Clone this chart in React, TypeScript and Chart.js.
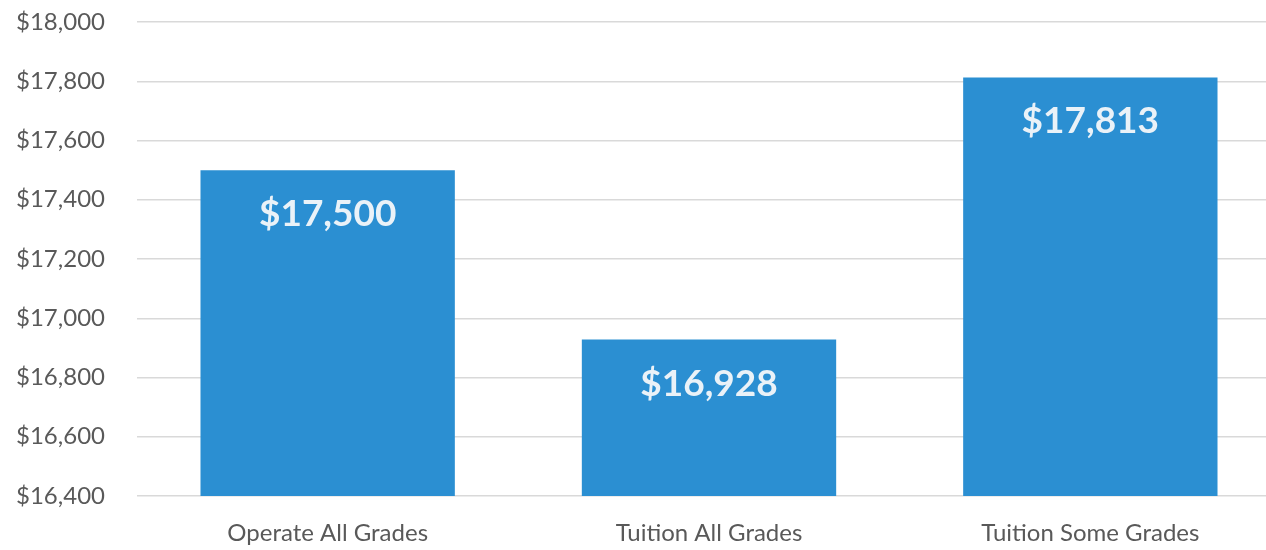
import React, { useEffect, useRef } from "react";
import { Chart, registerables } from "chart.js";

Chart.register(...registerables);

const categories = ["Operate All Grades", "Tuition All Grades", "Tuition Some Grades"];
const costs = [17500, 16928, 17813];
const yMin = 16400;
const yMax = 18000;
const yStep = 200;

const fmt = (v: number) => "$" + v.toLocaleString("en-US");

const valueLabels = {
  id: "valueLabels",
  afterDatasetsDraw(chart: any) {
    const { ctx } = chart;
    const meta = chart.getDatasetMeta(0);
    ctx.save();
    ctx.fillStyle = "#EAF2F8";
    ctx.font = "bold 37px Lato";
    ctx.textAlign = "center";
    ctx.textBaseline = "middle";
    meta.data.forEach((bar: any, i: number) => {
      ctx.fillText(fmt(costs[i]), bar.x, bar.y + 44);
    });
    ctx.restore();
  },
};

export default function App() {
  const ref = useRef<HTMLCanvasElement | null>(null);
  useEffect(() => {
    if (!ref.current) return;
    const chart = new Chart(ref.current, {
      type: "bar",
      data: {
        labels: categories,
        datasets: [
          {
            data: costs,
            backgroundColor: "#2B8FD2",
            barPercentage: 0.667,
            categoryPercentage: 1,
          },
        ],
      },
      options: {
        responsive: false,
        animation: false,
        layout: { padding: { top: 0, right: 9, left: 0, bottom: 0 } },
        plugins: { legend: { display: false }, tooltip: { enabled: false } },
        scales: {
          x: {
            grid: { display: false },
            border: { display: false },
            ticks: { color: "#595959", font: { family: "Lato", size: 24 }, padding: 15, maxRotation: 0 },
            afterFit: (s: any) => { s.height = 54; },
          },
          y: {
            min: yMin,
            max: yMax,
            grid: { color: "#D9D9D9", lineWidth: 1.5, drawTicks: false },
            border: { display: false },
            ticks: {
              stepSize: yStep,
              color: "#595959",
              font: { family: "Lato", size: 24 },
              padding: 32,
              callback: (v: any) => fmt(Number(v)),
            },
            afterFit: (s: any) => { s.width = 137; s.paddingTop = 22; },
          },
        },
      },
      plugins: [valueLabels],
    });
    return () => chart.destroy();
  }, []);
  return (
    <div style={{ position: "fixed", left: 0, top: 0, width: 1266, height: 550, overflow: "hidden", background: "#fff" }}>
      <canvas ref={ref} width={1290} height={550} style={{ display: "block" }} />
    </div>
  );
}
